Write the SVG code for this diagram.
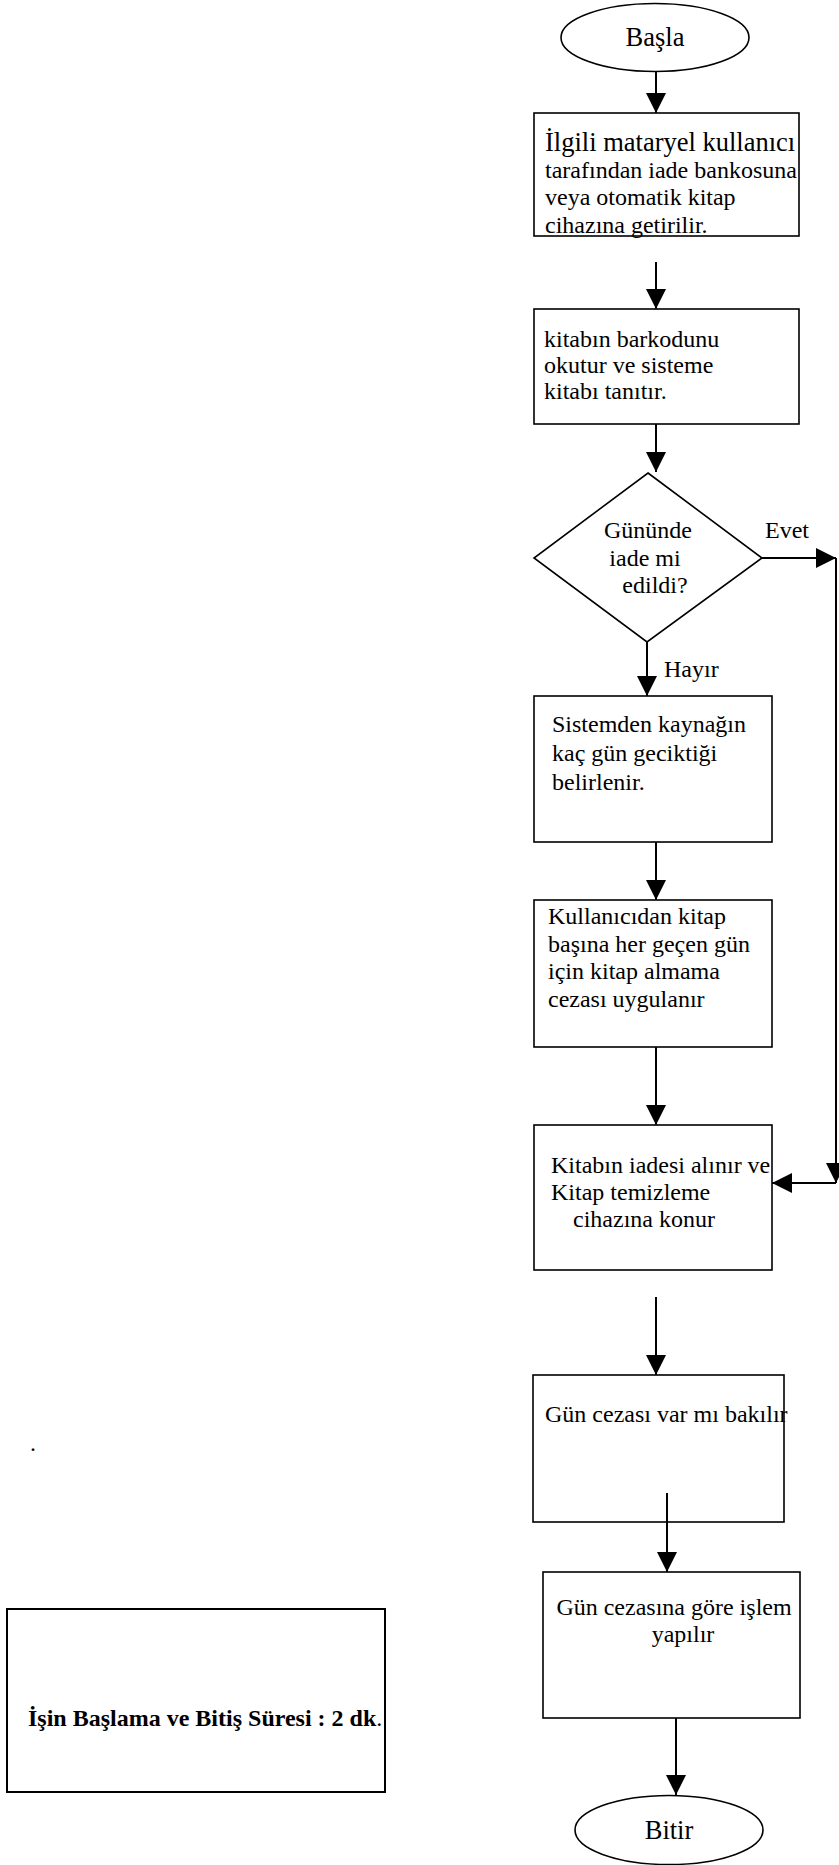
<svg xmlns="http://www.w3.org/2000/svg" width="839" height="1865" viewBox="0 0 839 1865">
<style>
.shape{fill:#fff;stroke:#000;stroke-width:1.6}
.t{font-family:"Liberation Serif","Times New Roman",serif;font-size:24px;fill:#000}
.big{font-size:26.5px}
.c{text-anchor:middle}
.b{font-weight:bold}
.conn{stroke:#000;stroke-width:2;fill:none}
</style>
<defs>
<marker id="ah" markerUnits="userSpaceOnUse" markerWidth="20" markerHeight="20" refX="20" refY="10" orient="auto">
<path d="M0,0 L20,10 L0,20 Z" fill="#000"/>
</marker>
</defs>
<rect width="839" height="1865" fill="#fff"/>

<g id="connectors">
<line class="conn" x1="656" y1="72" x2="656" y2="113" marker-end="url(#ah)"/>
<line class="conn" x1="656" y1="262" x2="656" y2="309" marker-end="url(#ah)"/>
<line class="conn" x1="656" y1="424" x2="656" y2="472" marker-end="url(#ah)"/>
<line class="conn" x1="647" y1="642" x2="647" y2="696" marker-end="url(#ah)"/>
<line class="conn" x1="762" y1="558" x2="836" y2="558" marker-end="url(#ah)"/>
<line class="conn" x1="836" y1="558" x2="836" y2="1183" marker-end="url(#ah)"/>
<line class="conn" x1="836" y1="1183" x2="772" y2="1183" marker-end="url(#ah)"/>
<line class="conn" x1="656" y1="842" x2="656" y2="900" marker-end="url(#ah)"/>
<line class="conn" x1="656" y1="1047" x2="656" y2="1125" marker-end="url(#ah)"/>
<line class="conn" x1="656" y1="1297" x2="656" y2="1375" marker-end="url(#ah)"/>
<line class="conn" x1="676" y1="1718" x2="676" y2="1795" marker-end="url(#ah)"/>
</g>

<g id="start">
<ellipse class="shape" cx="655" cy="37.5" rx="94" ry="34"/>
<text class="t big c" x="655" y="46">Başla</text>
</g>

<g id="box1">
<rect class="shape" x="534" y="113" width="265" height="123"/>
<text class="t big" x="545" y="151">İlgili mataryel kullanıcı</text>
<text class="t" x="545" y="178">tarafından iade bankosuna</text>
<text class="t" x="545" y="205">veya otomatik kitap</text>
<text class="t" x="545" y="233">cihazına getirilir.</text>
</g>

<g id="box2">
<rect class="shape" x="534" y="309" width="265" height="115"/>
<text class="t" x="544" y="347">kitabın barkodunu</text>
<text class="t" x="544" y="373">okutur ve sisteme</text>
<text class="t" x="544" y="399">kitabı tanıtır.</text>
</g>

<g id="decision">
<polygon class="shape" points="648,473 762,558 647,642 534,558"/>
<text class="t c" x="648" y="538">Gününde</text>
<text class="t c" x="645" y="566">iade mi</text>
<text class="t c" x="655" y="593">edildi?</text>
</g>

<g id="label-evet">
<text class="t" x="765" y="538">Evet</text>
</g>
<g id="label-hayir">
<text class="t" x="664" y="677">Hayır</text>
</g>

<g id="box3">
<rect class="shape" x="534" y="696" width="238" height="146"/>
<text class="t" x="552" y="732">Sistemden kaynağın</text>
<text class="t" x="552" y="761">kaç gün geciktiği</text>
<text class="t" x="552" y="790">belirlenir.</text>
</g>

<g id="box4">
<rect class="shape" x="534" y="900" width="238" height="147"/>
<text class="t" x="548" y="924">Kullanıcıdan kitap</text>
<text class="t" x="548" y="952">başına her geçen gün</text>
<text class="t" x="548" y="979">için kitap almama</text>
<text class="t" x="548" y="1007">cezası uygulanır</text>
</g>

<g id="box5">
<rect class="shape" x="534" y="1125" width="238" height="145"/>
<text class="t" x="551" y="1173">Kitabın iadesi alınır ve</text>
<text class="t" x="551" y="1200">Kitap temizleme</text>
<text class="t" x="573" y="1227">cihazına konur</text>
</g>

<g id="box6">
<rect class="shape" x="533" y="1375" width="251" height="147"/>
<text class="t" x="545" y="1422">Gün cezası var mı bakılır</text>
</g>

<line class="conn" x1="667" y1="1493" x2="667" y2="1572" marker-end="url(#ah)"/>

<g id="box7">
<rect class="shape" x="543" y="1572" width="257" height="146"/>
<text class="t c" x="674" y="1615">Gün cezasına göre işlem</text>
<text class="t c" x="683" y="1642">yapılır</text>
</g>

<g id="end">
<ellipse class="shape" cx="669" cy="1830" rx="94" ry="34.5"/>
<text class="t big c" x="669" y="1839">Bitir</text>
</g>

<g id="dot">
<text class="t" x="30" y="1451">.</text>
</g>

<g id="duration">
<rect x="7" y="1609" width="378" height="183" fill="#fff" stroke="#000" stroke-width="2"/>
<text class="t b" x="28" y="1726">İşin Başlama ve Bitiş Süresi : 2 dk<tspan font-weight="normal">.</tspan></text>
</g>
</svg>
